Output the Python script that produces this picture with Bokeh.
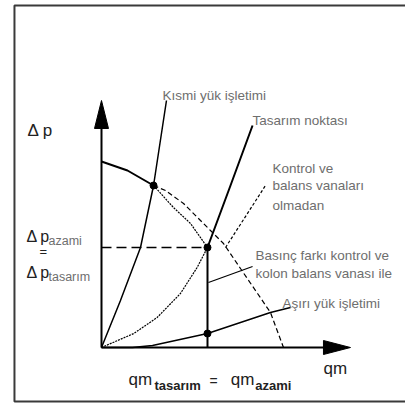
from bokeh.plotting import figure
from bokeh.models import Range1d
from bokeh.core.properties import value
from bokeh.embed import file_html
from bokeh.resources import INLINE

# Units: qm and delta-p in percent of the design point (design = 100 / 100)

# Pump curve with control and balancing valves (solid start, then dotted to design point)
pump_solid_q = [0, 24.5, 49.1]
pump_solid_dp = [186, 177, 162]
pump_valve_q = [49.1, 67.9, 84.0, 100]
pump_valve_dp = [162, 140, 124, 100]

# Pump curve without control and balancing valves
pump_free_q = [49.1, 60.4, 77.4, 93.4, 102.8, 115.1, 131.1, 147.2, 159.4, 171.7]
pump_free_dp = [162, 157, 144, 127, 117, 104, 79, 54, 35, 0]

# System curves
partial_q = [0, 17.9, 36.8, 49.1, 61.3]
partial_dp = [0, 47, 100, 162, 247]
design_low_q = [0, 30.5, 52.5, 74.5, 90.2, 100]
design_low_dp = [0, 14, 30, 54, 80, 100]
design_high_q = [100, 121.7, 142.5]
design_high_dp = [100, 162, 222]
over_q = [0, 29.2, 48.1, 100, 159.4, 178.3]
over_dp = [0, 0, 2, 14, 35, 40]

# Operating points
point_q = [49.1, 100, 100]
point_dp = [162, 100, 14]

design_q = 100
design_dp = 100

FONT = value("Liberation Sans")
GREY = "#6e6e6e"

p = figure(width=405, height=403, output_backend="svg", toolbar_location=None,
           x_range=Range1d(-95.28, 286.79), y_range=Range1d(-56, 347),
           min_border=0)
p.xaxis.visible = False
p.yaxis.visible = False
p.grid.visible = False
p.outline_line_color = None
p.background_fill_color = "white"

# Frame
p.multi_line(xs=[[300, -82.1, -82.1, 300]], ys=[[342, 342, -54, -54]],
             line_color="#3a3a3a", line_width=2)

# Axes with arrow heads
p.line([0, 0], [0, 228], line_color="black", line_width=2)
p.line([0, 215], [0, 0], line_color="black", line_width=2)
p.patch([0, -6.6, 6.6], [247, 219, 219], color="black")
p.patch([234.9, 209.4, 209.4], [0, 7, -7], color="black")

# Design reference lines
p.line([0, design_q], [design_dp, design_dp], line_color="black", line_width=1.5,
       line_dash="10 5")
p.line([design_q, design_q], [0, design_dp], line_color="black", line_width=2)

# Pump curves
p.line(pump_solid_q, pump_solid_dp, line_color="black", line_width=2)
p.line(pump_valve_q, pump_valve_dp, line_color="black", line_width=1.2, line_dash="2 1")
p.line(pump_free_q, pump_free_dp, line_color="black", line_width=1.2, line_dash="5 3")

# System curves
p.line(partial_q, partial_dp, line_color="black", line_width=1.5)
p.line(design_low_q, design_low_dp, line_color="black", line_width=1.2, line_dash="2 1")
p.line(design_high_q, design_high_dp, line_color="black", line_width=2)
p.line(over_q, over_dp, line_color="black", line_width=1.5)

# Leader lines
p.line([117, 154.7], [100, 162], line_color="black", line_width=1.2, line_dash="3 2")
p.line([100.9, 142.5], [65, 81], line_color="black", line_width=1.2)

p.scatter(point_q, point_dp, size=7, color="black")

def label(x, y, t, size="13.5px", color=GREY, align="left", style="normal"):
    p.text(x=[x], y=[y], text=[t], text_font=FONT, text_font_size=size,
           text_color=color, text_align=align, text_baseline="middle",
           text_font_style=style)

label(57.5, 252, "Kısmi yük işletimi")
label(142.5, 227, "Tasarım noktası")
label(161.3, 179, "Kontrol ve")
label(161.3, 162, "balans vanaları")
label(161.3, 142, "olmadan")
label(145.3, 92, "Basınç farkı kontrol ve")
label(145.3, 74, "kolon balans vanası ile")
label(170.8, 44, "Aşırı yük işletimi")

DARK = "#222222"
label(-69.8, 217, "Δ p", size="17px", color=DARK)
label(-70.8, 111, "Δ\u2009p", size="16px", color=DARK)
label(-50, 107, "azami", size="12.5px", color=GREY)
label(-55, 96, "=", size="13px", color=DARK, align="center")
label(-70.8, 75, "Δ\u2009p", size="16px", color=DARK)
label(-50, 71, "tasarım", size="12.5px", color=GREY)

label(25.5, -32, "qm", size="17px", color=DARK)
label(50, -38, "tasarım", size="13px", color=DARK, style="bold")
label(105.7, -33, "=", size="14px", color=DARK, align="center")
label(122, -32, "qm", size="17px", color=DARK)
label(145, -38, "azami", size="13px", color=DARK, style="bold")
label(209.4, -21, "qm", size="17px", color=DARK)

open("out.html", "w").write(file_html(p, INLINE))
